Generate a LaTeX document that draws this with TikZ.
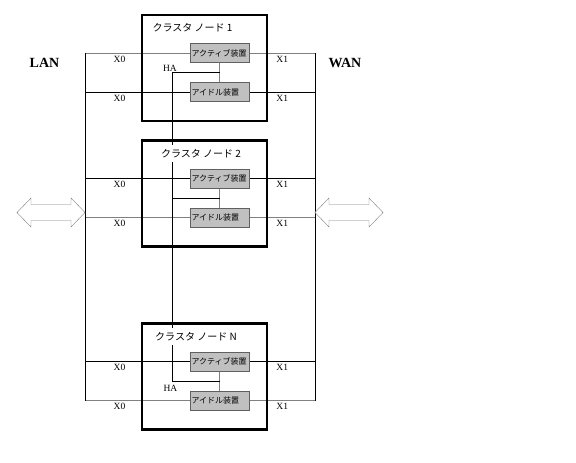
\documentclass[tikz,border=0pt]{standalone}
\usepackage{fontspec}
\setmainfont{Liberation Serif}
\newfontfamily\jafont{Noto Sans CJK JP}
\usetikzlibrary{positioning,calc,backgrounds}
\definecolor{devFill}{HTML}{C0C0C0}
\definecolor{devEdge}{HTML}{606060}
\definecolor{wireGray}{HTML}{808080}
\tikzset{
    dualArrow/.pic={
		\draw[wireGray, fill=white] (-34,0) -- (-20,-14.5) -- (-20,-8) -- (20,-8) -- (20,-14.5)
			-- (34,0) -- (20,14.5) -- (20,8) -- (-20,8) -- (-20,14.5) -- cycle;
	}
}
\tikzset{
    cluster/.style={draw, line width=2.4pt, minimum width=125pt, minimum height=106pt, inner sep=0pt},
    clusterTitle/.style={fill=white, inner xsep=2pt, inner ysep=4pt, font=\jafont\fontsize{10}{12}\selectfont},
    device/.style={draw=devEdge, fill=devFill, line width=0.8pt, minimum height=19pt, text width=56pt,
		inner xsep=1.5pt, inner ysep=0pt, align=left, font=\jafont\fontsize{8}{9}\selectfont},
    port/.style={text=black, inner sep=2.3pt, font=\fontsize{9.5}{10}\selectfont},
    netLabel/.style={font=\bfseries\fontsize{14}{15}\selectfont},
    wire/.style={line width=0.9pt}
}

\begin{document}
\begin{tikzpicture}[x=1pt,y=-1pt]
			\useasboundingbox (0,0) rectangle (576,463);
			\foreach \n/\y/\tx in {1/68/192.5, 2/193.5/201, N/376.5/196}{
				\node[cluster] (c\n) at (204.5,\y) {};
				\node[clusterTitle] (t\n) at (\tx,\y-40) {クラスタ ノード \n};
				\node[device] (act\n) at (219.5,\y-15) {アクティブ装置};
				\node[device] (idle\n) at (219.5,\y+24) {アイドル装置};
			}
			\node[netLabel] (lanLabel) at (44.5,62.5) {LAN};
			\node[netLabel] (wanLabel) at (345,62.5) {WAN};
			\pic at (51,212.5) {dualArrow};
			\pic at (349,212.5) {dualArrow};
			\begin{scope}[on background layer]
				\coordinate (lan) at (85,0);
				\coordinate (wan) at (315,0);
				\coordinate (ha) at (172,0);
				\foreach \n/\ca/\ci in {1/wireGray/black, 2/black/wireGray, N/black/wireGray}{
					\draw[wire,\ca] (act\n.west -| lan) -- node[port,below,pos=0.33] {X0} (act\n.west);
					\draw[wire,\ca] (act\n.east) -- node[port,below] {X1} (act\n.east -| wan);
					\draw[wire,\ci] (idle\n.west -| lan) -- node[port,below,pos=0.33] {X0} (idle\n.west);
					\draw[wire,\ci] (idle\n.east) -- node[port,below] {X1} (idle\n.east -| wan);
					\draw[wire,wireGray] (act\n.south) -- (idle\n.north);
					\coordinate (mid\n) at ($(act\n.south)!0.5!(idle\n.north)$);
				}
				\draw[wire] (act1.west -| lan) -- (idleN.west -| lan);
				\draw[wire] (act1.east -| wan) -- (idleN.east -| wan);
				\draw[wire] (mid1) -- (mid1 -| ha) -- (midN -| ha) -- (midN);
				\draw[wire] (mid2) -- (mid2 -| ha);
			\end{scope}
			\node[port] (haTop) at ($(mid1 -| ha)+(-2,-4)$) {HA};
			\node[port] (haBot) at ($(midN -| ha)+(-1.5,7)$) {HA};
	\end{tikzpicture}
\end{document}
